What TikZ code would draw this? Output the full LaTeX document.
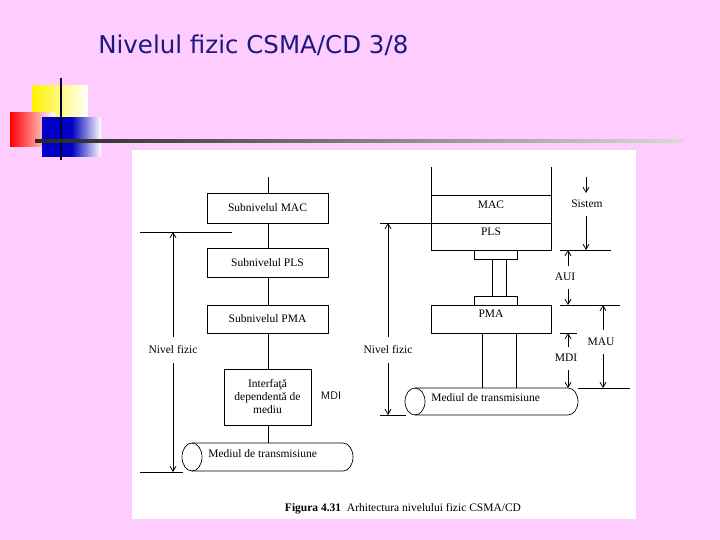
\documentclass[tikz,border=0pt]{standalone}
\usepackage{fontspec}
\setmainfont{Liberation Serif}
\newfontfamily\titlefont{DejaVu Sans}
\usetikzlibrary{arrows.meta}
\definecolor{bg}{HTML}{FFCCFF}
\definecolor{navy}{HTML}{1A1A80}
\begin{document}
\begin{tikzpicture}[x=1pt,y=-1pt,line width=0.7pt,
  box/.style={draw,fill=white},
  lbl/.style={font=\fontsize{11.5}{12.5}\selectfont,align=center,inner sep=1pt},
  arr/.style={-{Straight Barb[length=5pt,width=6pt,line width=0.8pt]},line width=0.8pt}]
\useasboundingbox (0,0) rectangle (720,540);
\fill[bg] (0,0) rectangle (720,540);
\node[anchor=west,text=navy,font=\titlefont\fontsize{24.5}{26}\selectfont,inner sep=0pt] (title) at (98,45) {Nivelul fizic CSMA/CD 3/8};
% decoration
\shade[left color=yellow!90!orange,right color=white] (32,86) rectangle (88,118);
\shade[left color=red,right color=white] (10,113) rectangle (55,147);
\shade[left color=blue!80!black,right color=white,middle color=blue!75!black] (42,118) rectangle (101,157);
\draw[line width=2.5pt,black!80!blue] (61,78) -- (61,160);
\shade[left color=black!85,right color=black!15] (35,140) rectangle (683,142.5);
% white panel
\fill[white] (132,150) rectangle (636,519);
% left diagram
\draw (268,177) -- (268,443);
\node[box,lbl,minimum width=121pt,minimum height=30pt] (mac) at (267.5,208) {Subnivelul MAC};
\node[box,lbl,minimum width=121pt,minimum height=29pt] (pls) at (267.5,262.5) {Subnivelul PLS};
\node[box,lbl,minimum width=121pt,minimum height=28pt] (pma) at (267.5,319) {Subnivelul PMA};
\node[box,lbl,minimum width=87pt,minimum height=56pt,font=\fontsize{11.5}{13}\selectfont] (mdi) at (267.5,397) {Interfaţă\\dependentă de\\mediu};
\draw[fill=white] (192,443) -- (343,443) arc[start angle=-90,end angle=90,x radius=10,y radius=14] -- (192,471) arc[start angle=90,end angle=270,x radius=10,y radius=14] -- cycle;
\draw (192,443) arc[start angle=-90,end angle=90,x radius=10,y radius=14];
\node[lbl,anchor=west] (med1) at (207,454) {Mediul de transmisiune};
\node[lbl,font=\fontsize{11}{12}\sffamily] (mdil) at (331,396) {MDI};
\draw (140,232) -- (232,232);
\draw (140,472) -- (183,472);
\node[lbl] (nf1) at (173,350) {Nivel fizic};
\draw[arr] (nf1.north) ++(0,-8) -- (173,232);
\draw[arr] (nf1.south) ++(0,8) -- (173,472);
% right diagram
\draw (431,167) -- (431,250) -- (551,250) -- (551,167);
\draw (431,195) -- (551,195);
\draw (380,223) -- (551,223);
\node[lbl] (mac2) at (491,205) {MAC};
\node[lbl] (pls2) at (491,232) {PLS};
\draw[box] (474,250) rectangle (517,259);
\draw[box] (492,259) rectangle (506,296);
\draw[box] (474,296) rectangle (517,305);
\draw[box] (431,305) rectangle (551,333);
\node[lbl] (pma2) at (491,314) {PMA};
\draw[box] (482,333) rectangle (516,388);
\draw[fill=white] (415,388) -- (568,388) arc[start angle=-90,end angle=90,x radius=10,y radius=13.5] -- (415,415) arc[start angle=90,end angle=270,x radius=10,y radius=13.5] -- cycle;
\draw (415,388) arc[start angle=-90,end angle=90,x radius=10,y radius=13.5];
\node[lbl,anchor=west] (med2) at (430,398) {Mediul de transmisiune};
\draw (380,415) -- (406,415);
\node[lbl] (nf2) at (388,350) {Nivel fizic};
\draw[arr] (nf2.north) ++(0,-8) -- (388,223);
\draw[arr] (nf2.south) ++(0,8) -- (388,415);
% dimension labels
\draw (560,250) -- (611,250);
\draw (560,305) -- (620,305);
\draw (560,333) -- (577,333);
\draw (578,388) -- (630,388);
\node[lbl] (sis) at (587,204) {Sistem};
\draw[arr] (586,177) -- (586,193);
\draw[arr] (586,216) -- (586,250);
\node[lbl] (aui) at (565,277) {AUI};
\draw[arr] (568,266) -- (568,250);
\draw[arr] (568,289) -- (568,305);
\node[lbl] (mau) at (601,342) {MAU};
\draw[arr] (603,330) -- (603,305);
\draw[arr] (603,354) -- (603,388);
\node[lbl] (mdi2) at (566,358) {MDI};
\draw[arr] (568,347) -- (568,333);
\draw[arr] (568,370) -- (568,388);
\node[lbl] (cap) at (403,509) {\textbf{Figura 4.31}\ \ Arhitectura nivelului fizic CSMA/CD};
\end{tikzpicture}
\end{document}
